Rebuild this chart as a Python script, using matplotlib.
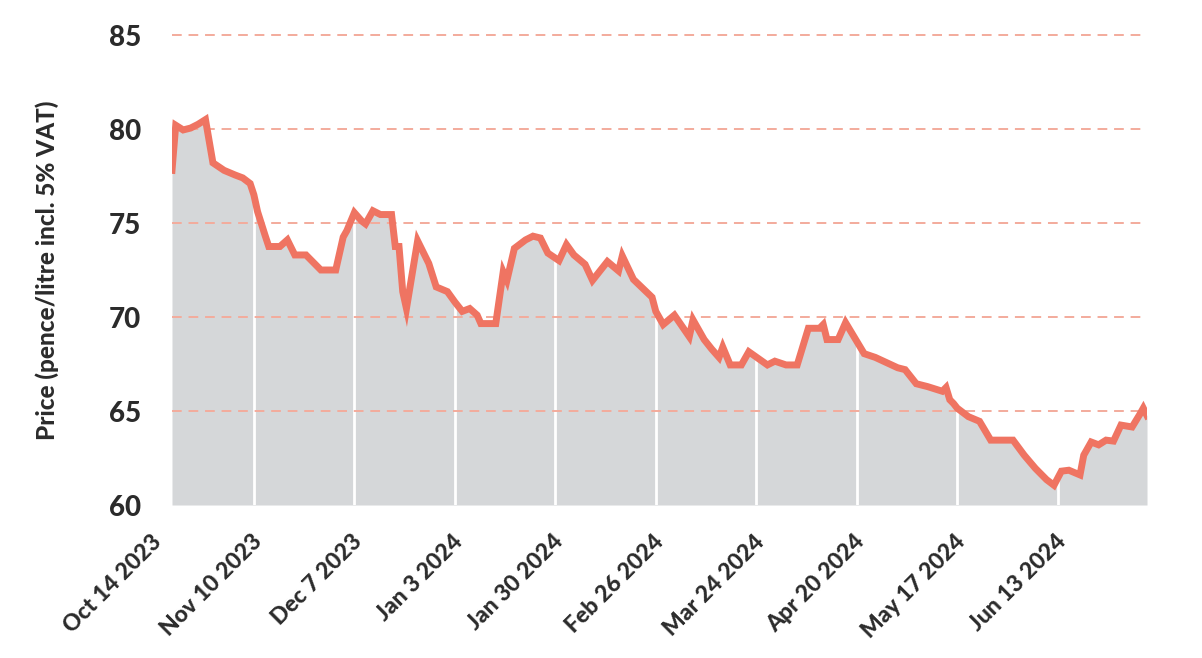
import datetime as dt
import matplotlib
matplotlib.use("Agg")
import matplotlib.pyplot as plt
import matplotlib.dates as mdates
import matplotlib.transforms as mtransforms

plt.rcParams['font.family'] = ['Lato', 'DejaVu Sans']

# price readings (pence/litre incl. 5% VAT)
dates = [
    "2023-10-19", "2023-10-20", "2023-10-22", "2023-10-24", "2023-10-26", "2023-10-28",
    "2023-10-30", "2023-11-02", "2023-11-05", "2023-11-07", "2023-11-09", "2023-11-10",
    "2023-11-11", "2023-11-13", "2023-11-14", "2023-11-17", "2023-11-19", "2023-11-21",
    "2023-11-24", "2023-11-28", "2023-12-02", "2023-12-04", "2023-12-05", "2023-12-07",
    "2023-12-09", "2023-12-10", "2023-12-12", "2023-12-14", "2023-12-17", "2023-12-18",
    "2023-12-19", "2023-12-20", "2023-12-21", "2023-12-24", "2023-12-27", "2023-12-29",
    "2024-01-01", "2024-01-03", "2024-01-05", "2024-01-07", "2024-01-09", "2024-01-10",
    "2024-01-14", "2024-01-16", "2024-01-17", "2024-01-19", "2024-01-22", "2024-01-24",
    "2024-01-26", "2024-01-28", "2024-01-31", "2024-02-02", "2024-02-04", "2024-02-07",
    "2024-02-09", "2024-02-13", "2024-02-16", "2024-02-17", "2024-02-20", "2024-02-25",
    "2024-02-26", "2024-02-28", "2024-03-02", "2024-03-06", "2024-03-07", "2024-03-10",
    "2024-03-12", "2024-03-14", "2024-03-15", "2024-03-17", "2024-03-20", "2024-03-22",
    "2024-03-27", "2024-03-29", "2024-04-01", "2024-04-04", "2024-04-07", "2024-04-10",
    "2024-04-11", "2024-04-12", "2024-04-15", "2024-04-17", "2024-04-22", "2024-04-25",
    "2024-05-01", "2024-05-03", "2024-05-06", "2024-05-09", "2024-05-13", "2024-05-14",
    "2024-05-15", "2024-05-16", "2024-05-17", "2024-05-20", "2024-05-23", "2024-05-26",
    "2024-06-01", "2024-06-04", "2024-06-07", "2024-06-10", "2024-06-12", "2024-06-14",
    "2024-06-16", "2024-06-19", "2024-06-20", "2024-06-22", "2024-06-24", "2024-06-26",
    "2024-06-28", "2024-06-30", "2024-07-03", "2024-07-05", "2024-07-06", "2024-07-07",
]
prices = [
    77.8, 80.2, 79.95, 80.05, 80.25, 80.5,
    78.2, 77.8, 77.55, 77.4, 77.1, 76.5,
    75.6, 74.35, 73.75, 73.75, 74.1, 73.3,
    73.3, 72.5, 72.5, 74.25, 74.6, 75.55,
    75.1, 74.95, 75.65, 75.45, 75.45, 73.75,
    73.75, 71.35, 70.45, 74.05, 72.85, 71.6,
    71.35, 70.8, 70.3, 70.45, 70.1, 69.65,
    69.65, 72.4, 71.95, 73.65, 74.1, 74.3,
    74.2, 73.4, 73.0, 73.85, 73.3, 72.8,
    71.95, 72.95, 72.45, 73.25, 72.0, 71.05,
    70.3, 69.6, 70.1, 68.95, 69.85, 68.8,
    68.3, 67.85, 68.4, 67.45, 67.45, 68.15,
    67.45, 67.65, 67.45, 67.45, 69.4, 69.4,
    69.6, 68.8, 68.8, 69.7, 68.05, 67.85,
    67.3, 67.2, 66.45, 66.3, 66.05, 66.25,
    65.6, 65.4, 65.15, 64.7, 64.45, 63.45,
    63.45, 62.65, 61.95, 61.35, 61.05, 61.8,
    61.85, 61.6, 62.65, 63.35, 63.2, 63.45,
    63.4, 64.25, 64.15, 64.8, 65.15, 64.75,
]

tick_dates = ["2023-10-14", "2023-11-10", "2023-12-07", "2024-01-03", "2024-01-30",
              "2024-02-26", "2024-03-24", "2024-04-20", "2024-05-17", "2024-06-13"]
tick_labels = ["Oct 14 2023", "Nov 10 2023", "Dec 7 2023", "Jan 3 2024", "Jan 30 2024",
               "Feb 26 2024", "Mar 24 2024", "Apr 20 2024", "May 17 2024", "Jun 13 2024"]
y_ticks = [60, 65, 70, 75, 80, 85]

x = [dt.datetime.strptime(d, "%Y-%m-%d") for d in dates]
xt = [dt.datetime.strptime(d, "%Y-%m-%d") for d in tick_dates]

line_col = "#ef7462"
grid_col = "#f3ab9c"
fill_col = "#d5d7d9"
text_col = "#2b2b2b"
wt = "black"

fig = plt.figure(figsize=(12.02, 6.58), dpi=100)
ax = fig.add_axes([172 / 1202, 153 / 658, 975 / 1202, 470 / 658])

ax.fill_between(x, prices, 60, color=fill_col, lw=0, zorder=1)
for d in xt:
    if x[0] < d < x[-1]:
        ax.axvline(d, color="white", lw=2, zorder=1.5)
for yv in y_ticks[1:]:
    ax.axhline(yv, color=grid_col, lw=1.4, ls=(0, (5, 3.5)), zorder=2, clip_on=False)
ax.plot(x, prices, color=line_col, lw=5, solid_joinstyle="miter", zorder=3)

ax.set_xlim(x[0], x[-1])
ax.set_ylim(60, 85)
ax.set_yticks(y_ticks)
ax.set_yticklabels([str(v) for v in y_ticks], fontsize=20, fontweight=wt, color=text_col)
ax.tick_params(axis="y", length=0, pad=22)
ax.set_xticks([])
for s in ax.spines.values():
    s.set_visible(False)

ax.set_ylabel("Price (pence/litre incl. 5% VAT)", fontsize=17.5, fontweight=wt,
              color=text_col, labelpad=36)

# rotated date labels, the first one sits left of the plotted range
trans = mtransforms.blended_transform_factory(ax.transData, ax.transAxes)
trans = trans + mtransforms.ScaledTranslation(12 / 100, -26 / 100, fig.dpi_scale_trans)
for d, lab in zip(xt, tick_labels):
    ax.text(mdates.date2num(d), 0, lab, transform=trans, rotation=45,
            ha="right", va="top", fontsize=16.5, fontweight=wt, color=text_col,
            clip_on=False)

fig.savefig("out.png", dpi=100, facecolor="white")
